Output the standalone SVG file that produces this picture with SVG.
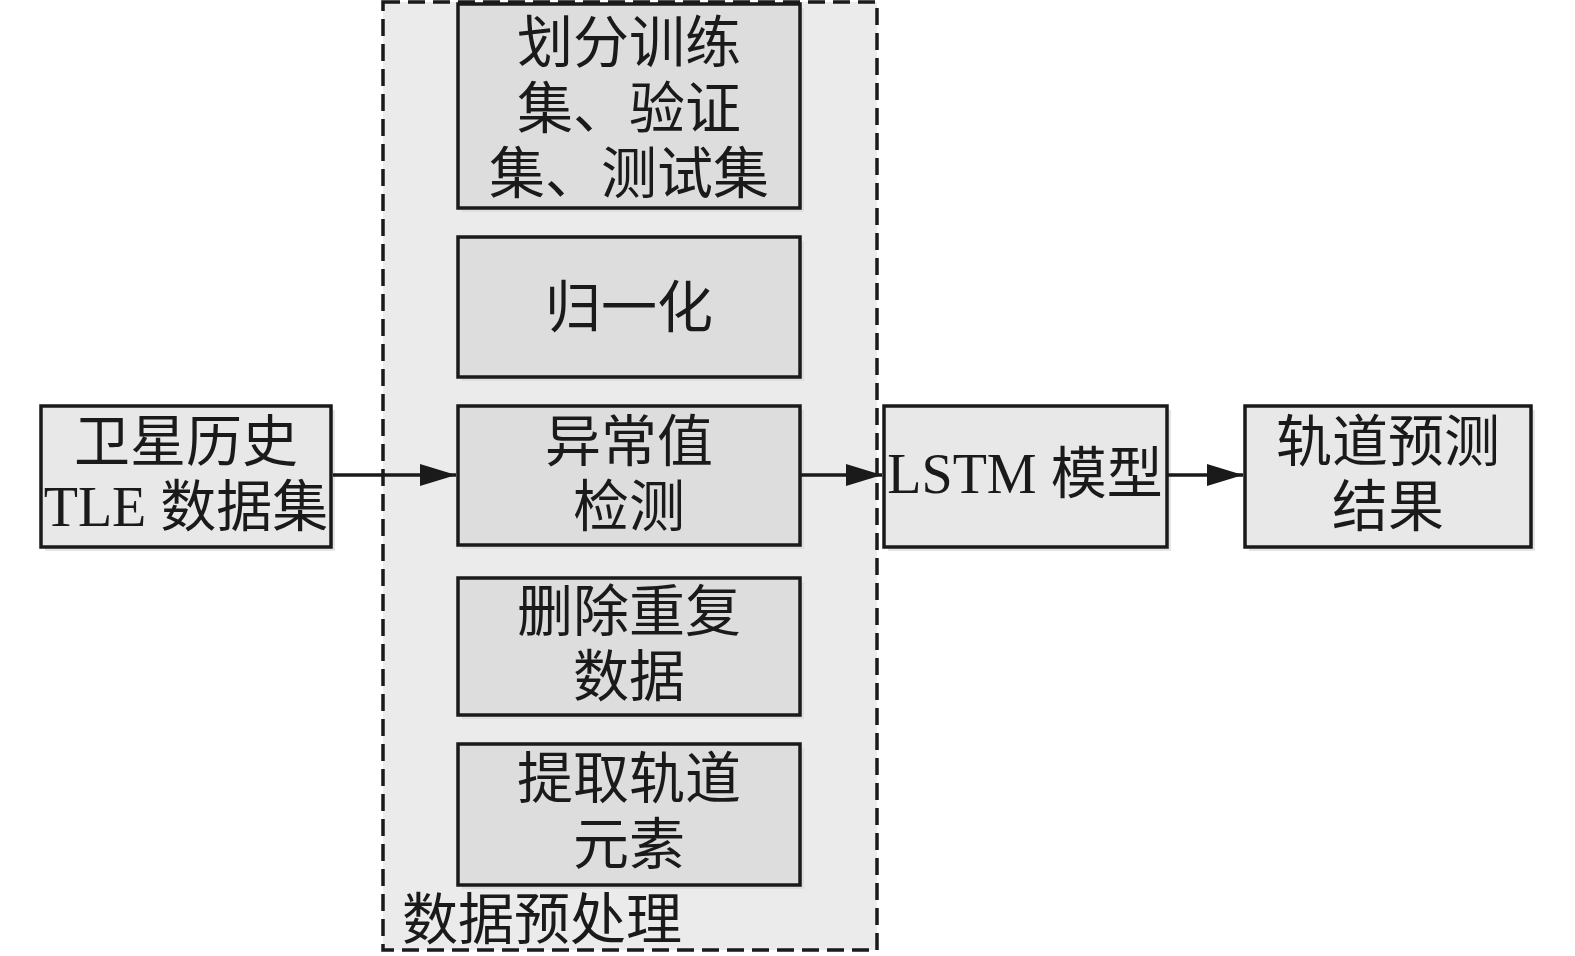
<svg xmlns="http://www.w3.org/2000/svg" width="1575" height="956" viewBox="0 0 1575 956">
<defs>
<marker id="arr" markerUnits="userSpaceOnUse" markerWidth="38" markerHeight="22" refX="36" refY="11" orient="auto">
<path d="M0,0 L36,11 L0,22 Z" fill="#1a1a1a"/>
</marker>
<style>
text{font-family:"Liberation Serif","Noto Sans CJK SC",serif;font-size:56px;fill:#1a1a1a;text-anchor:middle}
.box{stroke:#1a1a1a;stroke-width:3.5}
.inner{fill:#dddddd}
.outer{fill:#e8e8e8}
.sh{fill:#d6d6d6;opacity:0.6}
.edge{stroke:#1a1a1a;stroke-width:3.5;fill:none}
</style>
</defs>
<rect width="1575" height="956" fill="#ffffff"/>
<g id="container">
<rect x="383" y="2" width="494" height="948" fill="#ebebeb" stroke="#1a1a1a" stroke-width="3.5" stroke-dasharray="17 8"/>
<text x="402" y="939" style="text-anchor:start">数据预处理</text>
</g>
<g id="split">
<rect class="sh" x="462" y="8" width="342" height="204"/>
<rect class="box inner" x="458" y="4" width="342" height="204"/>
<text x="629" y="62">划分训练</text>
<text x="629" y="128">集、验证</text>
<text x="629" y="193">集、测试集</text>
</g>
<g id="normalize">
<rect class="sh" x="462" y="241" width="342" height="140"/>
<rect class="box inner" x="458" y="237" width="342" height="140"/>
<text x="629" y="327">归一化</text>
</g>
<g id="outlier">
<rect class="sh" x="462" y="410" width="342" height="139"/>
<rect class="box inner" x="458" y="406" width="342" height="139"/>
<text x="629" y="461">异常值</text>
<text x="629" y="526">检测</text>
</g>
<g id="dedupe">
<rect class="sh" x="462" y="582" width="342" height="137"/>
<rect class="box inner" x="458" y="578" width="342" height="137"/>
<text x="629" y="631">删除重复</text>
<text x="629" y="696">数据</text>
</g>
<g id="extract">
<rect class="sh" x="462" y="748" width="342" height="141"/>
<rect class="box inner" x="458" y="744" width="342" height="141"/>
<text x="629" y="798">提取轨道</text>
<text x="629" y="864">元素</text>
</g>
<g id="tle">
<rect class="sh" x="45" y="410" width="290" height="141"/>
<rect class="box outer" x="41" y="406" width="290" height="141"/>
<text x="186" y="461">卫星历史</text>
<text x="186" y="526">TLE 数据集</text>
</g>
<g id="lstm">
<rect class="sh" x="888" y="410" width="283" height="141"/>
<rect class="box outer" x="884" y="406" width="283" height="141"/>
<text x="1025" y="493">LSTM 模型</text>
</g>
<g id="result">
<rect class="sh" x="1249" y="410" width="286" height="141"/>
<rect class="box outer" x="1245" y="406" width="286" height="141"/>
<text x="1388" y="461">轨道预测</text>
<text x="1388" y="526">结果</text>
</g>
<g id="connectors">
<line class="edge" x1="333" y1="475" x2="456" y2="475" marker-end="url(#arr)"/>
<line class="edge" x1="801" y1="475" x2="882" y2="475" marker-end="url(#arr)"/>
<line class="edge" x1="1168" y1="475" x2="1243" y2="475" marker-end="url(#arr)"/>
</g>
</svg>
